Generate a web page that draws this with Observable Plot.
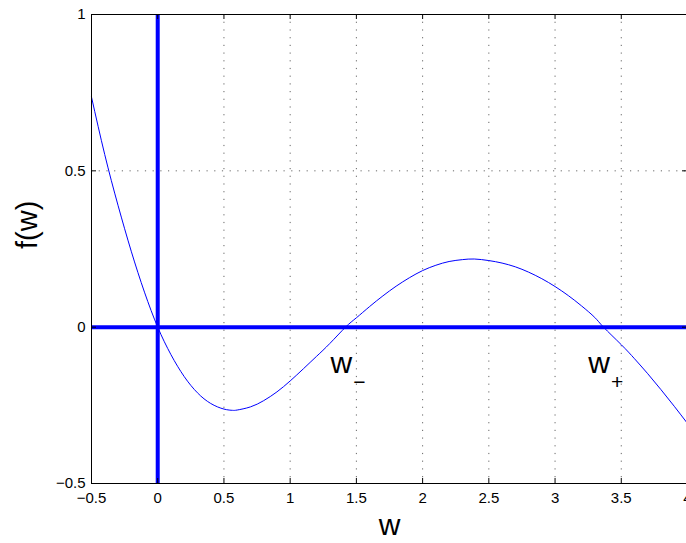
<!DOCTYPE html>
<html>
<head>
<meta charset="utf-8">
<script src="https://cdn.jsdelivr.net/npm/d3@7"></script>
<script src="https://cdn.jsdelivr.net/npm/@observablehq/plot@0.6"></script>
<style>
  html, body { margin: 0; padding: 0; background: #fff; overflow: hidden; }
  #chart svg { display: block; }
</style>
</head>
<body>
<div id="chart"></div>
<script>
// Sampled values of f(w) along the w axis
const wValues = [-0.5, -0.4, -0.3, -0.2, -0.1, 0, 0.1, 0.2, 0.3, 0.4, 0.5, 0.565, 0.6, 0.7, 0.8, 0.9, 1.0, 1.1, 1.2, 1.3, 1.418, 1.5, 1.6, 1.7, 1.8, 1.9, 2.0, 2.1, 2.2, 2.3, 2.39, 2.5, 2.6, 2.7, 2.8, 2.9, 3.0, 3.1, 3.2, 3.3, 3.366, 3.5, 3.6, 3.7, 3.8, 3.9, 4.0];
const fValues = [0.736, 0.552, 0.39, 0.243, 0.112, 0, -0.088, -0.158, -0.21, -0.244, -0.262, -0.266, -0.265, -0.255, -0.235, -0.207, -0.172, -0.133, -0.093, -0.052, 0, 0.03, 0.066, 0.1, 0.131, 0.158, 0.181, 0.198, 0.21, 0.216, 0.218, 0.213, 0.205, 0.193, 0.176, 0.155, 0.13, 0.101, 0.068, 0.031, 0, -0.056, -0.101, -0.149, -0.2, -0.253, -0.308];

// Axis ticks
const xTicks = [-0.5, 0, 0.5, 1, 1.5, 2, 2.5, 3, 3.5, 4];
const yTicks = [-0.5, 0, 0.5, 1];

// Root labels w− and w+ (main letter and subscript, in data units)
const rootNames = ["w", "w"];
const rootSubs = ["\u2212", "+"];
const rootW = [1.305, 3.25];
const rootF = [-0.146, -0.146];
const subW = [1.523, 3.469];
const subF = [-0.176, -0.176];

const curve = wValues.map((w, i) => ({w, f: fValues[i]}));
const roots = rootNames.map((t, i) => ({t, s: rootSubs[i], w: rootW[i], f: rootF[i], sw: subW[i], sf: subF[i]}));

const W = 686, H = 543;
const mL = 91, mR = -1, mT = 14, mB = 60;
const innerW = W - mL - mR, innerH = H - mT - mB;
const fmt = d => String(d).replace("-", "\u2212");

const chart = Plot.plot({
  width: W,
  height: H,
  marginLeft: mL,
  marginRight: mR,
  marginTop: mT,
  marginBottom: mB,
  style: {fontFamily: "'Liberation Sans', Arial, sans-serif", fontSize: "15px", background: "#fff", color: "#000"},
  x: {domain: [-0.5, 4]},
  y: {domain: [-0.5, 1]},
  marks: [
    // dotted grid
    Plot.ruleX(xTicks, {x: d => d, stroke: "#000", strokeOpacity: 0.6, strokeWidth: 1, strokeDasharray: "1.2,6.5"}),
    Plot.ruleY(yTicks, {y: d => d, stroke: "#000", strokeOpacity: 0.6, strokeWidth: 1, strokeDasharray: "1.2,6.5"}),
    // coordinate axes through the origin
    Plot.ruleY([0], {stroke: "#0000ff", strokeWidth: 4}),
    Plot.ruleX([0], {stroke: "#0000ff", strokeWidth: 4}),
    // f(w)
    Plot.line(curve, {x: "w", y: "f", stroke: "#0000ff", strokeWidth: 1, curve: "natural"}),
    // box and inward ticks
    Plot.frame({stroke: "#000", strokeWidth: 1}),
    Plot.tickX(xTicks, {x: d => d, insetTop: innerH - 5, stroke: "#000"}),
    Plot.tickX(xTicks, {x: d => d, insetBottom: innerH - 5, stroke: "#000"}),
    Plot.tickY(yTicks, {y: d => d, insetRight: innerW - 5, stroke: "#000"}),
    Plot.tickY(yTicks, {y: d => d, insetLeft: innerW - 5, stroke: "#000"}),
    Plot.axisX(xTicks, {tickSize: 0, tickPadding: 9, tickFormat: fmt, fontSize: 15, label: null}),
    Plot.axisY(yTicks, {tickSize: 0, tickPadding: 6, tickFormat: fmt, fontSize: 15, label: null}),
    // axis titles
    Plot.text(["w"], {frameAnchor: "bottom", dy: 42, fontSize: 30, lineAnchor: "middle", fill: "#000"}),
    Plot.text(["f(w)"], {frameAnchor: "left", dx: -64, rotate: -90, fontSize: 29, lineAnchor: "middle", fill: "#000"}),
    // root labels
    Plot.text(roots, {x: "w", y: "f", text: "t", textAnchor: "start", lineAnchor: "bottom", fontSize: 30, fill: "#000"}),
    Plot.text(roots, {x: "sw", y: "sf", text: "s", textAnchor: "middle", lineAnchor: "middle", fontSize: 21, fill: "#000"})
  ]
});

document.getElementById("chart").appendChild(chart);
</script>
</body>
</html>
